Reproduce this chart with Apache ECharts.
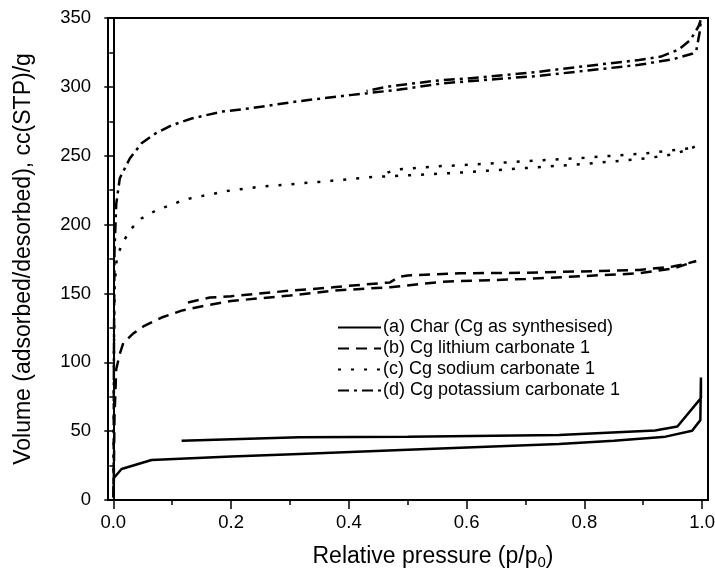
<!DOCTYPE html>
<html>
<head>
<meta charset="utf-8">
<script src="https://cdn.jsdelivr.net/npm/echarts@6/dist/echarts.min.js"></script>
<style>
  html, body { margin: 0; padding: 0; background: #fff; }
  #graph { width: 715px; height: 572px; }
</style>
</head>
<body>
<div id="graph"></div>
<script>
// isotherm data, [p/p0, volume]
var names = ['(a) Char (Cg as synthesised)', '(b) Cg lithium carbonate 1', '(c) Cg sodium carbonate 1', '(d) Cg potassium carbonate 1'];

var charAds = [[0.0005, 2], [0.001, 16], [0.014, 22.5], [0.065, 29], [0.2, 31.5], [0.316, 33.4], [0.5, 36.5], [0.757, 40.7], [0.85, 43], [0.938, 46], [0.983, 50.3], [0.997, 58], [0.998, 89]];
var charDes = [[0.998, 74], [0.958, 53.4], [0.92, 50.5], [0.757, 47.2], [0.5, 46], [0.316, 45.5], [0.116, 43.1]];

var lithAds = [[0.0005, 2], [0.002, 60], [0.005, 95], [0.011, 106], [0.017, 114], [0.034, 121], [0.051, 126], [0.082, 132.5], [0.116, 137.5], [0.155, 141], [0.2, 144.5], [0.3, 148.5], [0.373, 152], [0.47, 154.5], [0.559, 158.5], [0.7, 160.5], [0.893, 164.6], [0.95, 168], [0.99, 173.5]];
var lithDes = [[0.977, 172], [0.95, 169.5], [0.893, 167], [0.7, 165], [0.588, 164.6], [0.5, 163], [0.485, 162], [0.47, 158], [0.4, 155.5], [0.373, 154.4], [0.3, 152], [0.2, 148], [0.164, 147], [0.122, 143]];

var sodAds = [[0.0005, 2], [0.001, 100], [0.002, 155], [0.006, 176], [0.014, 185], [0.028, 196], [0.048, 204.5], [0.074, 210.6], [0.096, 214], [0.119, 217.8], [0.141, 220], [0.167, 222], [0.186, 224], [0.25, 227.5], [0.35, 231], [0.44, 234.5], [0.466, 235], [0.588, 237.7], [0.7, 241], [0.8, 244], [0.904, 248], [0.95, 251], [0.977, 254.5], [0.99, 257]];
var sodDes = [[0.977, 255.3], [0.904, 251.7], [0.8, 248.5], [0.7, 246], [0.588, 243], [0.559, 242.5], [0.48, 240], [0.466, 237.7], [0.455, 235]];

var potAds = [[0.0005, 2], [0.001, 100], [0.002, 180], [0.005, 215], [0.011, 233.6], [0.028, 248], [0.048, 259], [0.071, 266], [0.099, 272], [0.133, 277], [0.184, 282], [0.232, 284.4], [0.317, 289.7], [0.402, 294], [0.486, 298], [0.559, 302.6], [0.723, 308], [0.893, 316], [0.95, 320], [0.983, 324], [0.99, 326], [0.996, 340], [0.998, 349]];
var potDes = [[0.994, 344], [0.98, 334], [0.96, 327], [0.93, 322], [0.893, 319.5], [0.8, 315], [0.723, 311], [0.6, 306], [0.559, 305], [0.5, 302], [0.463, 300], [0.43, 297]];

var xMajor = [0, 0.2, 0.4, 0.6, 0.8, 1.0];
var xMinor = [0.1, 0.3, 0.5, 0.7, 0.9];

var chartDom = document.getElementById('graph');
var myChart = echarts.init(chartDom);
var option;

var font = 'Liberation Sans, Arial, sans-serif';
var dashes = ['solid', [11, 7], [3, 10], [11, 5, 3, 5]];
var sets = [charAds.concat(charDes), lithAds.concat(lithDes), sodAds.concat(sodDes), potAds.concat(potDes)];

var series = [];
for (var i = 0; i < names.length; i++) {
  series.push({
    name: names[i],
    type: 'line',
    data: sets[i],
    showSymbol: false,
    symbol: 'none',
    xAxisIndex: 0,
    lineStyle: { color: '#000', width: 2.5, type: dashes[i] },
    itemStyle: { color: '#000' }
  });
}

option = {
  animation: false,
  backgroundColor: '#fff',
  grid: {
    left: 108, right: 7, top: 18, bottom: 72,
    outerBoundsMode: 'none', containLabel: false,
    show: true, borderColor: '#000', borderWidth: 2
  },
  legend: {
    orient: 'vertical',
    left: 332, top: 313,
    itemWidth: 43, itemHeight: 14, itemGap: 2,
    itemStyle: { color: 'rgba(0,0,0,0)', borderColor: 'rgba(0,0,0,0)', borderWidth: 0 },
    textStyle: { fontFamily: font, fontSize: 18, color: '#000', lineHeight: 19, padding: [0, 0, 0, -3] },
    data: names
  },
  xAxis: [
    {
      type: 'value', min: -0.009, max: 1.01,
      name: 'Relative pressure (p/p{sub|0})',
      nameLocation: 'middle', nameGap: 43,
      nameTextStyle: {
        fontFamily: font, fontSize: 23, color: '#000', padding: [0, 0, 0, 50],
        rich: { sub: { fontFamily: font, fontSize: 15, color: '#000', padding: [12, 0, 0, 0] } }
      },
      axisLine: { lineStyle: { color: '#000', width: 2 } },
      axisTick: { show: true, inside: false, length: 9, customValues: xMajor, lineStyle: { color: '#000', width: 1.5 } },
      axisLabel: {
        customValues: xMajor, margin: 13, color: '#000', fontFamily: font, fontSize: 18.5,
        formatter: function (v) { return v.toFixed(1); }
      },
      splitLine: { show: false }
    },
    {
      type: 'value', min: -0.009, max: 1.01, position: 'bottom',
      axisLine: { show: false },
      axisTick: { show: true, length: 5, customValues: xMinor, lineStyle: { color: '#000', width: 1.5 } },
      axisLabel: { show: false },
      splitLine: { show: false }
    }
  ],
  yAxis: {
    type: 'value', min: 0, max: 350, interval: 50,
    name: 'Volume (adsorbed/desorbed), cc(STP)/g',
    nameLocation: 'middle', nameGap: 73,
    nameTextStyle: { fontFamily: font, fontSize: 23, color: '#000' },
    axisLine: { show: true, lineStyle: { color: '#000', width: 2 } },
    axisTick: { show: true, length: 9, lineStyle: { color: '#000', width: 1.5 } },
    minorTick: { show: true, splitNumber: 2, length: 4, lineStyle: { color: '#000', width: 1.5 } },
    axisLabel: { margin: 17, color: '#000', fontFamily: font, fontSize: 18.5 },
    splitLine: { show: false },
    minorSplitLine: { show: false }
  },
  series: series
};

option && myChart.setOption(option);
</script>
</body>
</html>
